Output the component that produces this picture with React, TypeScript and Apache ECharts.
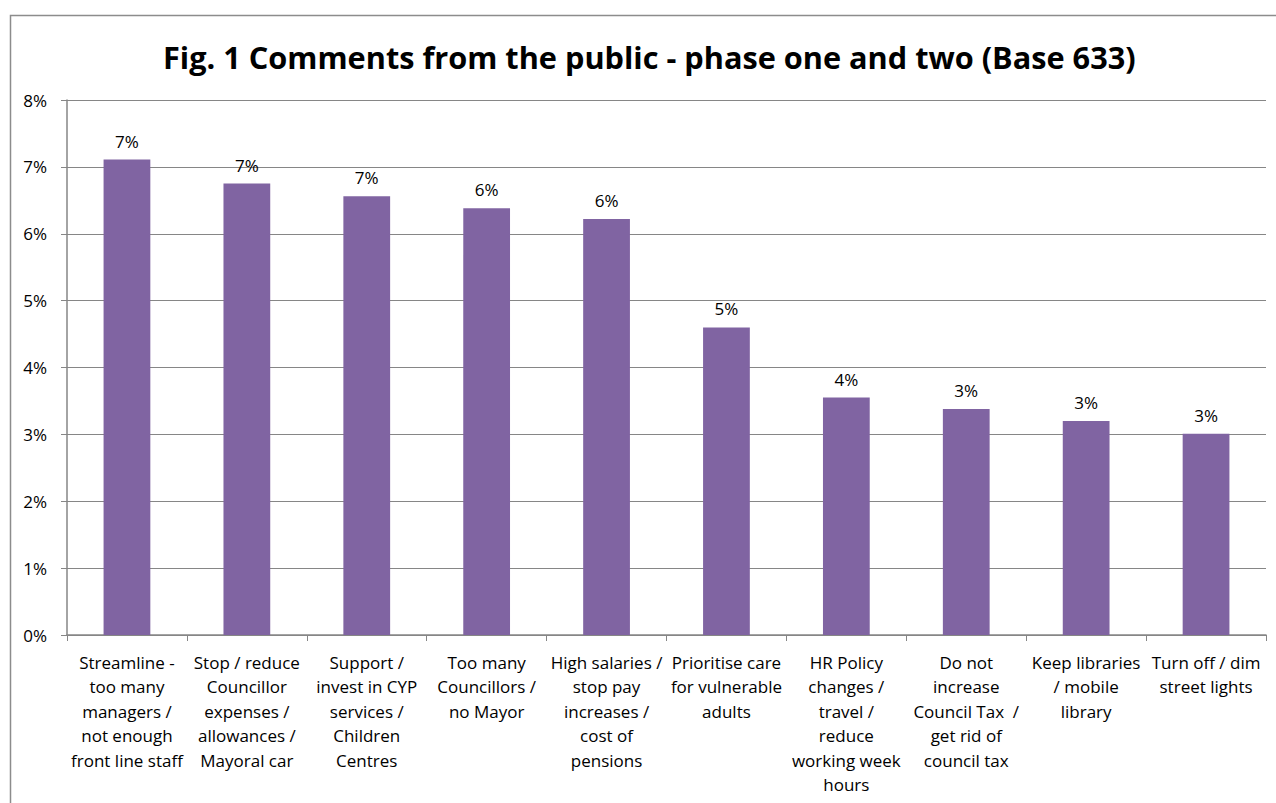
import React, { useEffect, useRef } from "react";
import * as echarts from "echarts";

const TITLE = "Fig. 1 Comments from the public - phase one and two (Base 633)";

const categories = [
  "Streamline -\ntoo many\nmanagers /\nnot enough\nfront line staff",
  "Stop / reduce\nCouncillor\nexpenses /\nallowances /\nMayoral car",
  "Support /\ninvest in CYP\nservices /\nChildren\nCentres",
  "Too many\nCouncillors /\nno Mayor",
  "High salaries /\nstop pay\nincreases /\ncost of\npensions",
  "Prioritise care\nfor vulnerable\nadults",
  "HR Policy\nchanges /\ntravel /\nreduce\nworking week\nhours",
  "Do not\nincrease\nCouncil Tax  /\nget rid of\ncouncil tax",
  "Keep libraries\n/ mobile\nlibrary",
  "Turn off / dim\nstreet lights",
];

const values = [7.11, 6.75, 6.56, 6.38, 6.22, 4.6, 3.55, 3.38, 3.2, 3.01];

const yTicks = [0, 1, 2, 3, 4, 5, 6, 7, 8];

const FONT = "'Open Sans', Lato, sans-serif";

export default function App() {
  const ref = useRef<HTMLDivElement>(null);

  useEffect(() => {
    document.body.style.margin = "0";
    if (!ref.current) return;
    const chart = echarts.init(ref.current, undefined, { renderer: "svg" });
    chart.setOption({
      animation: false,
      backgroundColor: "#ffffff",
      textStyle: { fontFamily: FONT },
      title: {
        text: TITLE,
        left: 163,
        top: 41,
        padding: 0,
        textStyle: {
          fontFamily: FONT,
          fontSize: 30.7,
          fontWeight: "bold",
          color: "#000000",
        },
      },
      graphic: [
        {
          type: "rect",
          shape: { x: 10.5, y: 15.5, width: 1300, height: 900 },
          style: { fill: "none", stroke: "#8c8c8c", lineWidth: 1.5 },
          silent: true,
          z: -1,
        },
      ],
      grid: { left: 67, right: 10, top: 100, bottom: 168, containLabel: false },
      xAxis: {
        type: "category",
        data: categories,
        axisLine: { show: true, lineStyle: { color: "#868686", width: 1.5 } },
        axisTick: { show: true, alignWithLabel: false, length: 6, lineStyle: { color: "#868686" } },
        axisLabel: {
          interval: 0,
          color: "#000000",
          fontFamily: FONT,
          fontSize: 17,
          lineHeight: 24.5,
          margin: 15,
        },
      },
      yAxis: {
        type: "value",
        min: 0,
        max: 8,
        interval: 1,
        axisLine: { show: true, lineStyle: { color: "#868686", width: 1.5 } },
        axisTick: { show: true, length: 6, lineStyle: { color: "#868686" } },
        splitLine: { show: true, lineStyle: { color: "#868686", width: 1.2 } },
        axisLabel: {
          color: "#000000",
          fontFamily: FONT,
          fontSize: 17,
          margin: 20,
          formatter: (v: number) => (yTicks.includes(v) ? `${v}%` : ""),
        },
      },
      series: [
        {
          type: "bar",
          data: values,
          barWidth: "39%",
          itemStyle: { color: "#8064A2" },
          label: {
            show: true,
            position: "top",
            distance: 10,
            color: "#000000",
            fontFamily: FONT,
            fontSize: 17,
            formatter: (p: any) => `${Math.round(p.value)}%`,
          },
        },
      ],
    });
    return () => chart.dispose();
  }, []);

  return <div ref={ref} style={{ width: 1276, height: 803 }} />;
}
